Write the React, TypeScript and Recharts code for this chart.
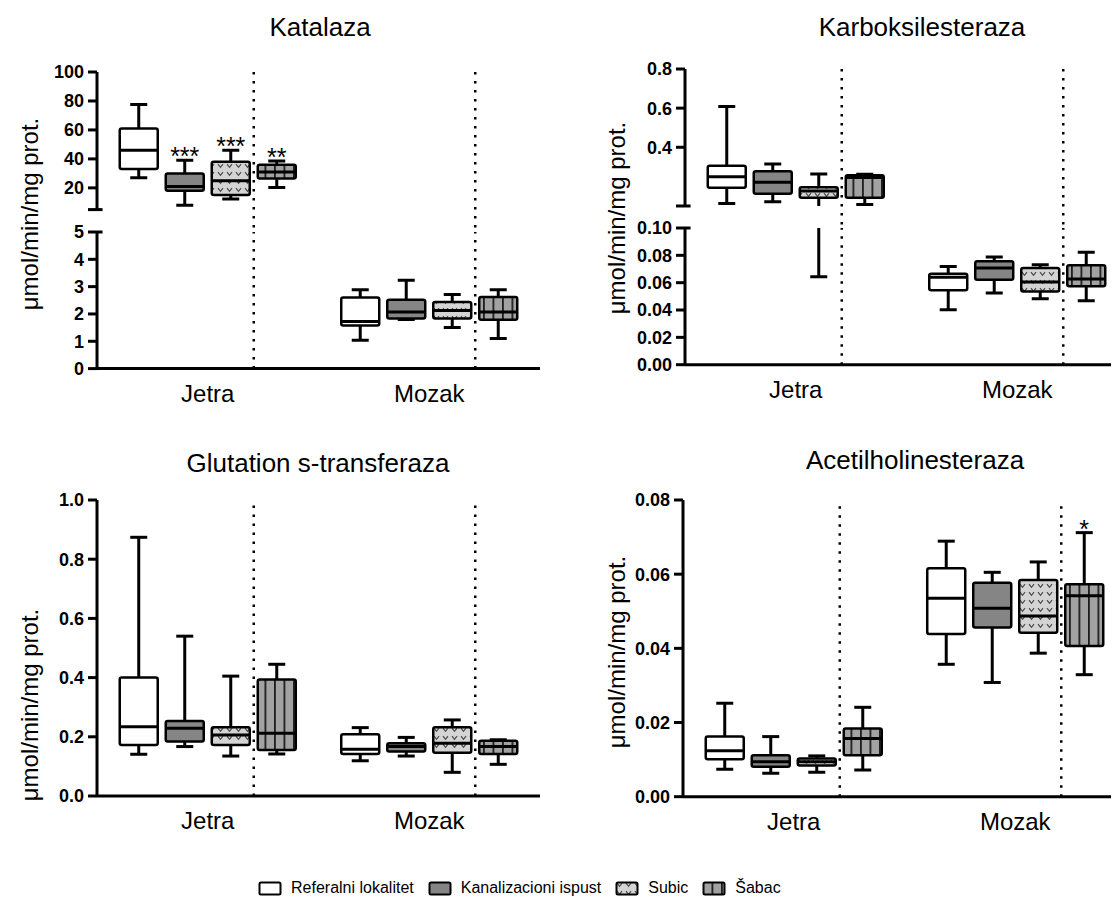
import React from 'react';
import { ComposedChart, Bar, XAxis, YAxis, ReferenceLine } from 'recharts';

const organs = ['Jetra', 'Mozak'];
const sites = ['Referalni lokalitet', 'Kanalizacioni ispust', 'Subic', 'Šabac'];

// each site: [min, q1, median, q3, max]
const katalazaJetra = [
  [27, 33, 46, 61, 77.5],
  [8, 18, 21, 30, 39],
  [12.4, 15, 25, 38, 46],
  [20.3, 26.5, 31, 36, 38.6],
];
const katalazaMozak = [
  [1.04, 1.58, 1.72, 2.6, 2.89],
  [1.8, 1.83, 2.07, 2.52, 3.23],
  [1.5, 1.83, 2.13, 2.44, 2.71],
  [1.1, 1.79, 2.07, 2.62, 2.89],
];
const katalazaSigJetra = ['', '***', '***', '**'];
const katalazaSigMozak = ['', '', '', ''];

const karboksJetra = [
  [0.113, 0.193, 0.249, 0.306, 0.608],
  [0.122, 0.162, 0.221, 0.277, 0.315],
  [0.0644, 0.142, 0.176, 0.196, 0.264],
  [0.108, 0.142, 0.245, 0.257, 0.262],
];
const karboksMozak = [
  [0.0402, 0.0544, 0.0639, 0.0666, 0.0719],
  [0.0524, 0.0622, 0.0707, 0.0756, 0.0788],
  [0.0483, 0.0536, 0.0605, 0.0707, 0.0731],
  [0.0468, 0.0573, 0.0627, 0.0727, 0.0822],
];

const glutationJetra = [
  [0.141, 0.172, 0.234, 0.4, 0.874],
  [0.167, 0.184, 0.229, 0.253, 0.54],
  [0.135, 0.172, 0.206, 0.232, 0.405],
  [0.142, 0.155, 0.212, 0.394, 0.445],
];
const glutationMozak = [
  [0.119, 0.142, 0.158, 0.209, 0.231],
  [0.135, 0.15, 0.167, 0.178, 0.198],
  [0.08, 0.146, 0.178, 0.232, 0.257],
  [0.107, 0.142, 0.167, 0.187, 0.19],
];

const acetilJetra = [
  [0.0074, 0.0101, 0.0124, 0.0162, 0.0252],
  [0.0063, 0.0081, 0.0094, 0.0112, 0.0162],
  [0.0066, 0.0084, 0.0094, 0.0103, 0.011],
  [0.0072, 0.0112, 0.0157, 0.0184, 0.0241],
];
const acetilMozak = [
  [0.0357, 0.0439, 0.0535, 0.0616, 0.0689],
  [0.0308, 0.0456, 0.0508, 0.0577, 0.0605],
  [0.0387, 0.0442, 0.0487, 0.0584, 0.0633],
  [0.0329, 0.0406, 0.0542, 0.0573, 0.0712],
];
const acetilSigMozak = ['', '', '', '*'];
const noSig = ['', '', '', ''];

const katalazaUpperTicks = [5, 20, 40, 60, 80, 100];
const katalazaLowerTicks = [0, 1, 2, 3, 4, 5];
const karboksUpperTicks = [0.1, 0.4, 0.6, 0.8];
const karboksLowerTicks = [0, 0.02, 0.04, 0.06, 0.08, 0.1];
const glutationTicks = [0, 0.2, 0.4, 0.6, 0.8, 1.0];
const acetilTicks = [0, 0.02, 0.04, 0.06, 0.08];

const FONT = '"Liberation Sans", Arial, Helvetica, sans-serif';
const STEP = 0.2077; // distance between boxes inside one organ group (x units)
const Y_W = 70;
const PLOT_W = 443;
const GAP = 22.4;
const fills = ['#ffffff', '#858585', 'url(#pat-sub)', 'url(#pat-sab)'];
const separators = [0.5 + STEP, 1.5 + STEP];

type Row = {
  pos: number;
  site: number;
  min: number;
  q1: number;
  median: number;
  q3: number;
  max: number;
  sig: string;
};

function buildRows(jetra: number[][], mozak: number[][], sigJ: string[], sigM: string[]): Row[] {
  const rows: Row[] = [];
  [jetra, mozak].forEach((group, g) => {
    group.forEach((s, i) => {
      rows.push({
        pos: g + 0.5 + (i - 1.5) * STEP,
        site: i,
        min: s[0],
        q1: s[1],
        median: s[2],
        q3: s[3],
        max: s[4],
        sig: (g === 0 ? sigJ : sigM)[i],
      });
    });
  });
  return rows;
}

// whole box-and-whisker drawn inside the [min, max] range bar
const makeBoxShape = (lo: number, hi: number) => (props: any) => {
  const { x, y, width, height } = props;
  const d: Row = props.payload ?? props;
  if (d == null || height == null || isNaN(height)) return null;
  const span = d.max - d.min;
  const toY = (v: number) => y + (height * (d.max - v)) / span;
  const cx = x + width / 2;
  const yMax = toY(d.max);
  const yQ3 = toY(d.q3);
  const yMed = toY(d.median);
  const yQ1 = toY(d.q1);
  const yMin = toY(d.min);
  const cap = 17;
  const showSig = d.sig && d.max >= lo && d.max <= hi;
  return (
    <g>
      <line x1={cx} x2={cx} y1={yMax} y2={yQ3} stroke="#000" strokeWidth={3} />
      <line x1={cx} x2={cx} y1={yQ1} y2={yMin} stroke="#000" strokeWidth={3} />
      <line x1={cx - cap / 2} x2={cx + cap / 2} y1={yMax} y2={yMax} stroke="#000" strokeWidth={3} />
      <line x1={cx - cap / 2} x2={cx + cap / 2} y1={yMin} y2={yMin} stroke="#000" strokeWidth={3} />
      <rect x={x} y={yQ3} width={width} height={yQ1 - yQ3} rx={2} fill={fills[d.site]} stroke="#000" strokeWidth={2.5} />
      <line x1={x} x2={x + width} y1={yMed} y2={yMed} stroke="#000" strokeWidth={3} />
      {showSig ? (
        <text x={cx} y={yMax + 5} textAnchor="middle" fontSize={25} fill="#000">
          {d.sig}
        </text>
      ) : null}
    </g>
  );
};

interface SegmentProps {
  rows: Row[];
  axisX: number;
  top: number;
  plotH: number;
  domain: [number, number];
  ticks: number[];
  fmt: (v: number) => string;
  showX?: boolean;
  breakBelow?: boolean;
  breakAbove?: boolean;
}

const axisStroke = { stroke: '#000', strokeWidth: 3 };

const Segment: React.FC<SegmentProps> = ({ rows, axisX, top, plotH, domain, ticks, fmt, showX, breakBelow, breakAbove }) => {
  const MT = 14;
  const MB = showX ? 44 : breakBelow ? GAP + 4 : 4;
  const [lo, hi] = domain;
  const gapUnits = (GAP * (hi - lo)) / plotH;
  return (
    <div style={{ position: 'absolute', left: axisX - Y_W, top: top - MT }}>
      <ComposedChart
        width={Y_W + PLOT_W}
        height={MT + plotH + MB}
        data={rows}
        margin={{ top: MT, right: 0, bottom: showX ? 0 : MB, left: 0 }}
      >
        <XAxis
          type="number"
          dataKey="pos"
          domain={[0, 2]}
          ticks={[0.5, 1.5]}
          interval={0}
          hide={!showX}
          height={showX ? MB : 0}
          tickFormatter={(v: number) => organs[Math.floor(v)]}
          tickLine={false}
          tickSize={6}
          tickMargin={10}
          axisLine={axisStroke}
          tick={{ fill: '#000', fontSize: 24, fontFamily: FONT }}
        />
        <YAxis
          type="number"
          width={Y_W}
          domain={domain}
          ticks={ticks}
          interval={0}
          allowDataOverflow
          tickFormatter={fmt}
          tickSize={9}
          tickMargin={4}
          axisLine={axisStroke}
          tickLine={axisStroke}
          tick={{ fill: '#000', fontSize: 18, fontWeight: 700, fontFamily: FONT }}
        />
        {separators.map((sx) =>
          breakBelow ? (
            <ReferenceLine
              key={sx}
              segment={[{ x: sx, y: hi }, { x: sx, y: lo - gapUnits }]}
              ifOverflow="visible"
              stroke="#000"
              strokeWidth={2.5}
              strokeDasharray="2.5 6.5"
            />
          ) : (
            <ReferenceLine key={sx} x={sx} stroke="#000" strokeWidth={2.5} strokeDasharray="2.5 6.5" />
          )
        )}
        {breakBelow && (
          <ReferenceLine segment={[{ x: 0, y: lo }, { x: 0.025, y: lo }]} ifOverflow="visible" stroke="#000" strokeWidth={3} />
        )}
        {breakAbove && (
          <ReferenceLine segment={[{ x: 0, y: hi }, { x: 0.025, y: hi }]} ifOverflow="visible" stroke="#000" strokeWidth={3} />
        )}
        <Bar dataKey={(d: Row) => [d.min, d.max]} barSize={38} shape={makeBoxShape(lo, hi)} isAnimationActive={false} />
      </ComposedChart>
    </div>
  );
};

const Txt: React.FC<{ x: number; y: number; size: number; rotate?: boolean; children: React.ReactNode }> = ({ x, y, size, rotate, children }) => (
  <div
    style={{
      position: 'absolute',
      left: x,
      top: y,
      transform: `translate(-50%, -50%)${rotate ? ' rotate(-90deg)' : ''}`,
      fontSize: size,
      lineHeight: 1,
      whiteSpace: 'nowrap',
      color: '#000',
    }}
  >
    {children}
  </div>
);

const fmt0 = (v: number) => String(v);
const fmt1 = (v: number) => v.toFixed(1);
const fmt2 = (v: number) => v.toFixed(2);

const App: React.FC = () => {
  const katalazaRows = buildRows(katalazaJetra, katalazaMozak, katalazaSigJetra, katalazaSigMozak);
  const karboksRows = buildRows(karboksJetra, karboksMozak, noSig, noSig);
  const glutationRows = buildRows(glutationJetra, glutationMozak, noSig, noSig);
  const acetilRows = buildRows(acetilJetra, acetilMozak, noSig, acetilSigMozak);
  const unit = 'μmol/min/mg prot.';

  return (
    <div
      style={{
        position: 'relative',
        width: 1119,
        height: 905,
        margin: -8,
        overflow: 'hidden',
        background: '#fff',
        fontFamily: FONT,
      }}
    >
      <svg width={0} height={0} style={{ position: 'absolute' }}>
        <defs>
          <pattern id="pat-sub" width={9} height={8} patternUnits="userSpaceOnUse">
            <rect width={9} height={8} fill="#d4d4d4" />
            <path d="M2 2.2 L4.5 5.4 L7 2.2" fill="none" stroke="#4a4a4a" strokeWidth={1.2} />
          </pattern>
          <pattern id="pat-sab" width={9.5} height={10} patternUnits="userSpaceOnUse">
            <rect width={9.5} height={10} fill="#a2a2a2" />
            <rect x={0} width={1.8} height={10} fill="#1e1e1e" />
          </pattern>
        </defs>
      </svg>

      {/* Katalaza */}
      <Txt x={320} y={27} size={26}>Katalaza</Txt>
      <Txt x={30} y={214} size={24} rotate>{unit}</Txt>
      <Segment rows={katalazaRows} axisX={97} top={71.7} plotH={137.6} domain={[5, 100]} ticks={katalazaUpperTicks}
        fmt={(v) => (v === 5 ? '' : fmt0(v))} breakBelow />
      <Segment rows={katalazaRows} axisX={97} top={231.7} plotH={136.6} domain={[0, 5]} ticks={katalazaLowerTicks}
        fmt={fmt0} showX breakAbove />

      {/* Karboksilesteraza */}
      <Txt x={922} y={27} size={26}>Karboksilesteraza</Txt>
      <Txt x={617} y={218} size={24} rotate>{unit}</Txt>
      <Segment rows={karboksRows} axisX={685} top={69} plotH={137} domain={[0.1, 0.8]} ticks={karboksUpperTicks}
        fmt={(v) => (v === 0.1 ? '' : fmt1(v))} breakBelow />
      <Segment rows={karboksRows} axisX={685} top={228.3} plotH={136.7} domain={[0, 0.1]} ticks={karboksLowerTicks}
        fmt={fmt2} showX breakAbove />

      {/* Glutation s-transferaza */}
      <Txt x={318} y={463} size={26}>Glutation s-transferaza</Txt>
      <Txt x={30} y={705} size={24} rotate>{unit}</Txt>
      <Segment rows={glutationRows} axisX={97} top={500} plotH={296} domain={[0, 1]} ticks={glutationTicks}
        fmt={fmt1} showX />

      {/* Acetilholinesteraza */}
      <Txt x={915} y={460} size={26}>Acetilholinesteraza</Txt>
      <Txt x={617} y={652} size={24} rotate>{unit}</Txt>
      <Segment rows={acetilRows} axisX={683} top={500} plotH={296.7} domain={[0, 0.08]} ticks={acetilTicks}
        fmt={fmt2} showX />

      {/* legend */}
      <div style={{ position: 'absolute', left: 258, top: 879, display: 'flex', alignItems: 'center', fontSize: 16, lineHeight: '18px' }}>
        {sites.map((s, i) => (
          <div key={s} style={{ display: 'flex', alignItems: 'center', marginRight: 14 }}>
            <svg width={24} height={15} style={{ marginRight: 9, display: 'block' }}>
              <rect x={1.5} y={1.5} width={21} height={12} rx={1.5} fill={fills[i]} stroke="#000" strokeWidth={2} />
            </svg>
            <span>{s}</span>
          </div>
        ))}
      </div>
    </div>
  );
};

export default App;
